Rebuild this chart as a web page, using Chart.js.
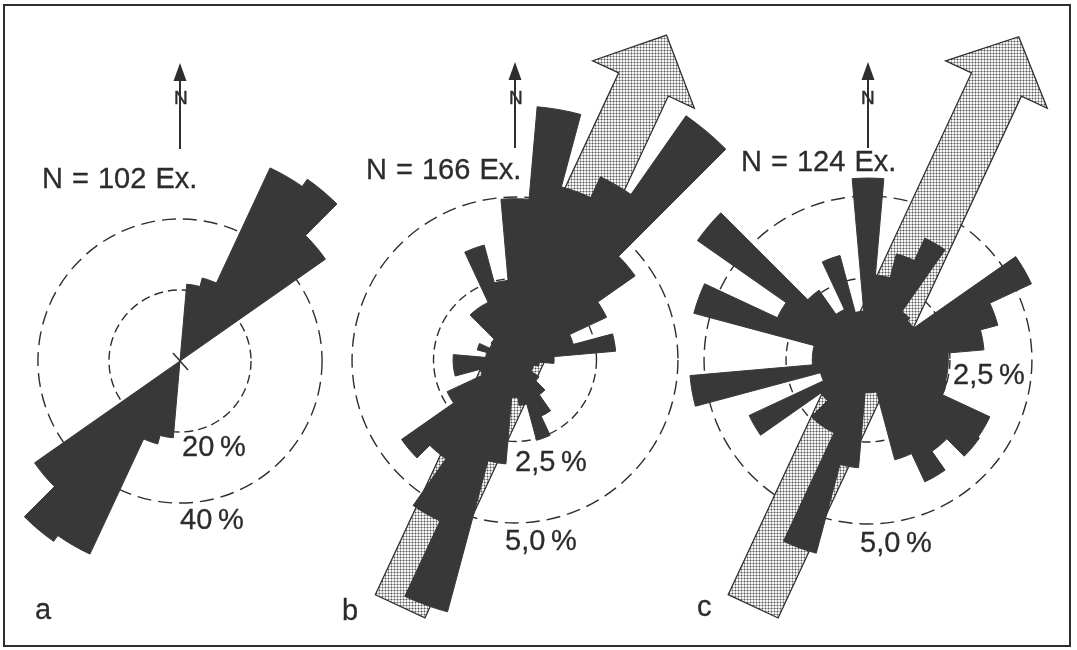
<!DOCTYPE html>
<html>
<head>
<meta charset="utf-8">
<script src="https://cdn.jsdelivr.net/npm/chart.js@4/dist/chart.umd.min.js"></script>
<style>
    body { margin: 0; background: #fff; }
    #fig { position: relative; width: 1077px; height: 650px; overflow: hidden; background: #fff; }
    #frame { position: absolute; left: 3px; top: 4px; width: 1068px; height: 643px; border: 2px solid #2e2e2e; box-sizing: border-box; }
    canvas { position: absolute; }
    .lbl { position: absolute; font-family: "Liberation Sans", Arial, sans-serif; font-size: 29px; line-height: 1; color: #2c2c2c; white-space: nowrap; z-index: 5; -webkit-text-stroke: 0.3px #2c2c2c; }
    .title { word-spacing: 1px; }
    .north { position: absolute; font-family: "Liberation Sans Narrow", "Liberation Sans", sans-serif; font-size: 19px; line-height: 1; color: #2c2c2c; z-index: 5; -webkit-text-stroke: 0.4px #2c2c2c; }
</style>
</head>
<body>
<div id="fig">
    <div id="frame"></div>
    <canvas id="rose-a" width="760" height="760" style="left:-200px;top:-19px"></canvas>
    <canvas id="rose-b" width="760" height="760" style="left:135px;top:-20px"></canvas>
    <canvas id="rose-c" width="760" height="760" style="left:488px;top:-20px"></canvas>

    <div class="lbl title" style="left:42px;top:164px">N = 102 Ex.</div>
    <div class="lbl title" style="left:366px;top:155px">N = 166 Ex.</div>
    <div class="lbl title" style="left:741px;top:147px">N = 124 Ex.</div>

    <div class="lbl" style="left:182px;top:432px">20&#8201;%</div>
    <div class="lbl" style="left:180px;top:505px">40&#8201;%</div>
    <div class="lbl" style="left:515px;top:447px">2,5&#8201;%</div>
    <div class="lbl" style="left:505px;top:526px">5,0&#8201;%</div>
    <div class="lbl" style="left:953px;top:360px">2,5&#8201;%</div>
    <div class="lbl" style="left:860px;top:528px">5,0&#8201;%</div>

    <div class="lbl" style="left:35px;top:595px">a</div>
    <div class="lbl" style="left:342px;top:596px">b</div>
    <div class="lbl" style="left:697px;top:592px">c</div>

    <div class="north" style="left:174px;top:88px">N</div>
    <div class="north" style="left:509px;top:88px">N</div>
    <div class="north" style="left:861px;top:88px">N</div>
</div>

<script>
'use strict'

// 10 degree direction classes, clockwise from north
let bearings = ["0°", "10°", "20°", "30°", "40°", "50°", "60°", "70°", "80°", "90°", "100°", "110°",
    "120°", "130°", "140°", "150°", "160°", "170°", "180°", "190°", "200°", "210°", "220°", "230°",
    "240°", "250°", "260°", "270°", "280°", "290°", "300°", "310°", "320°", "330°", "340°", "350°"];

// percent of specimens per class
let roseA = [0, 21.7, 24.2, 60, 62.5, 50, 0, 0, 0, 0, 0, 0,
    0, 0, 0, 0, 0, 0, 0, 21.7, 24.2, 60, 62, 50,
    0, 0, 0, 0, 0, 0, 0, 0, 0, 0, 0, 0];
let roseB = [4.95, 7.8, 5.5, 6.2, 9.15, 4.5, 3.1, 1.85, 3.1, 1.2, 0.75, 0.6,
    0.6, 0.9, 1.3, 1.9, 2.55, 1.4, 1.15, 3.2, 8.0, 5.45, 3.7, 4.25,
    2.3, 1.1, 1.9, 1.9, 0.9, 1.2, 0.85, 0.9, 1.95, 1.95, 3.65, 2.45];
let roseC = [5.55, 2.6, 3.35, 4.1, 1.8, 1.7, 5.5, 4.1, 3.55, 2.45, 2.45, 2.5,
    4.1, 4.15, 3.4, 4.1, 3.15, 1.0, 1.0, 3.3, 6.1, 2.45, 2.45, 1.75,
    4.0, 1.5, 5.45, 1.7, 1.7, 5.5, 3.05, 6.35, 2.6, 1.7, 3.3, 1.5];

// dashed reference circles
let ticksA = [0, 20, 40];
let ticksB = [0, 2.5, 5];
let ticksC = [0, 2.5, 5];

// mean direction of the stippled arrows (b, c)
let meanDirB = 25;
let meanDirC = 25;

let ink = "#383838";

function stipplePattern(ctx) {
    let c = document.createElement("canvas");
    c.width = 3;
    c.height = 3;
    let g = c.getContext("2d");
    g.fillStyle = "#f4f4f4";
    g.fillRect(0, 0, 3, 3);
    g.fillStyle = "#b0b0b0";
    g.fillRect(0, 1, 3, 1);
    g.fillRect(1, 0, 1, 3);
    g.fillStyle = "#555";
    g.fillRect(1, 1, 1, 1);
    return ctx.createPattern(c, "repeat");
}

// big mean-direction arrow, drawn under the sectors
let meanArrow = {
    id: "meanArrow",
    beforeDatasetsDraw(chart, args, opts) {
        if (opts.direction == null) return;
        let r = chart.scales.r;
        let ctx = chart.ctx;
        let a = (opts.direction - 90) * Math.PI / 180;
        let ux = Math.cos(a), uy = Math.sin(a);
        let px = -uy, py = ux;
        let d = v => r.getDistanceFromCenterForValue(v);
        let tail = d(opts.tail), base = d(opts.headBase), tip = d(opts.tip);
        let w = d(opts.halfWidth), hw = d(opts.headHalfWidth);
        let pt = (along, side) => [r.xCenter + ux * along + px * side, r.yCenter + uy * along + py * side];
        let pts = [pt(-tail, -w), pt(base, -w), pt(base, -hw), pt(tip, 0), pt(base, hw), pt(base, w), pt(-tail, w)];

        ctx.save();
        ctx.beginPath();
        pts.forEach(function (p, i) {
            if (i === 0) ctx.moveTo(p[0], p[1]);
            else ctx.lineTo(p[0], p[1]);
        });
        ctx.closePath();
        ctx.fillStyle = stipplePattern(ctx);
        ctx.fill();
        ctx.lineWidth = 1.3;
        ctx.strokeStyle = "#2e2e2e";
        ctx.stroke();
        ctx.restore();
    },
    afterDraw(chart, args, opts) {
        let r = chart.scales.r;
        let ctx = chart.ctx;
        let x = r.xCenter, y = r.yCenter;
        // north arrow
        ctx.save();
        ctx.strokeStyle = "#2e2e2e";
        ctx.fillStyle = "#2e2e2e";
        ctx.lineWidth = 2;
        ctx.beginPath();
        ctx.moveTo(x, y - 212);
        ctx.lineTo(x, y - 282);
        ctx.stroke();
        ctx.beginPath();
        ctx.moveTo(x, y - 298);
        ctx.lineTo(x - 6.5, y - 280);
        ctx.lineTo(x + 6.5, y - 280);
        ctx.closePath();
        ctx.fill();
        if (opts.centerTick) {
            ctx.lineWidth = 1.5;
            ctx.beginPath();
            ctx.moveTo(x - 7, y - 8);
            ctx.lineTo(x + 8, y + 9);
            ctx.stroke();
        }
        ctx.restore();
    }
};

function makeRose(id, values, ticks, max, arrow) {
    let el = document.getElementById(id).getContext("2d");
    return new Chart(el, {
        type: "polarArea",
        data: {
            labels: bearings,
            datasets: [
                {
                    data: values,
                    backgroundColor: ink,
                    borderColor: ink,
                    borderWidth: ctx => ctx.raw > 0 ? 1 : 0,
                },
            ],
        },
        plugins: [meanArrow],
        options: {
            responsive: false,
            animation: false,
            events: [],
            layout: { padding: 0 },
            scales: {
                r: {
                    min: 0,
                    max: max,
                    startAngle: -5,
                    ticks: { display: false },
                    pointLabels: { display: false },
                    angleLines: { display: false },
                    afterBuildTicks: function (scale) {
                        scale.ticks = ticks.map(v => ({ value: v }));
                    },
                    grid: { circular: true, color: "#2e2e2e", lineWidth: 1.4 },
                    border: { dash: ctx => ctx.index === 1 ? [9, 5] : [14, 7] },
                },
            },
            plugins: {
                legend: { display: false },
                tooltip: { enabled: false },
                meanArrow: arrow,
            },
        },
    });
}

makeRose("rose-a", roseA, ticksA, 107, { centerTick: true });
makeRose("rose-b", roseB, ticksB, 11.66, {
    direction: meanDirB, tail: 8.34, headBase: 9.33, tip: 11.0, halfWidth: 0.84, headHalfWidth: 1.72,
});
makeRose("rose-c", roseC, ticksC, 11.59, {
    direction: meanDirC, tail: 8.29, headBase: 9.27, tip: 10.88, halfWidth: 0.84, headHalfWidth: 1.71,
});
</script>
</body>
</html>
